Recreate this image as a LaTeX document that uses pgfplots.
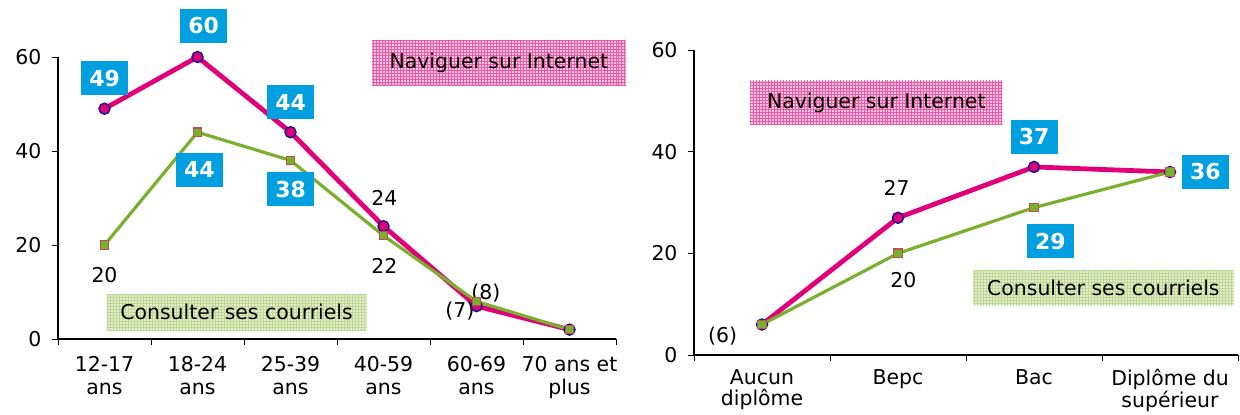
\documentclass[border=0pt]{standalone}
\usepackage{pgfplots}
\pgfplotsset{compat=1.18}
\usepackage{fontspec}
\setmainfont{DejaVu Sans}
\usetikzlibrary{patterns}
\definecolor{pinkline}{HTML}{E2007A}
\definecolor{navy}{HTML}{1F1A8C}
\definecolor{greenline}{HTML}{7AB02E}
\definecolor{sqedge}{HTML}{C0504D}
\definecolor{boxblue}{HTML}{009FDF}
\definecolor{pinkbg}{HTML}{F9C6E0}
\definecolor{greenbg}{HTML}{E2EFC8}
\newcommand\lf{\fontsize{20.5}{23}\selectfont}
\tikzset{
  bluebox/.style={fill=boxblue, text=white, font=\bfseries\fontsize{22}{22}\selectfont, minimum width=47bp, minimum height=34bp, inner sep=0pt},
  plain/.style={font=\lf, inner sep=0pt},
  pinkleg/.style={preaction={fill=pinkbg}, pattern=grid, pattern color=pinkline!65, font=\lf, minimum width=254bp, minimum height=45bp, inner sep=0pt},
  greenleg/.style={preaction={fill=greenbg}, pattern=grid, pattern color=greenline!50, font=\lf, minimum width=260bp, minimum height=36bp, inner sep=0pt},
}
\pgfplotsset{
  common/.style={
    scale only axis, clip=false,
    axis x line*=bottom, axis y line*=left,
    axis line style={line width=1.2bp, black},
    ymin=0, ymax=60, ytick={0,20,40,60},
    tick align=outside,
    major tick length=6bp, minor tick length=6bp,
    major x tick style={draw=none},
    minor x tick style={line width=0.8bp, black},
    ytick style={line width=0.8bp, black},
    tick label style={font=\lf},
    /pgf/number format/assume math mode=true,
    xticklabel style={align=center, yshift=-8bp},
    yticklabel style={xshift=-7bp},
  },
  pinkser/.style={color=pinkline, line width=4.8bp, mark=*, mark size=5.5bp, mark options={fill=pinkline, draw=navy, line width=1.5bp}},
  greenser/.style={color=greenline, line width=3.2bp, mark=square*, mark size=4.2bp, mark options={fill=greenline, draw=sqedge, line width=1.3bp}},
}
\begin{document}
\begin{tikzpicture}[x=1bp,y=1bp]
\useasboundingbox (0,0) rectangle (1240,-414);
\begin{axis}[common,
  at={(58bp,-339bp)}, anchor=south west,
  width=558bp, height=282bp,
  xmin=-0.5, xmax=5.5,
  xtick={0,1,2,3,4,5},
  xticklabels={12-17\\ans,18-24\\ans,25-39\\ans,40-59\\ans,60-69\\ans,70 ans et\\plus},
  minor xtick={-0.5,0.5,1.5,2.5,3.5,4.5,5.5},
]
\addplot[pinkser] coordinates {(0,49) (1,60) (2,44) (3,24) (4,7) (5,2)};
\addplot[greenser] coordinates {(0,20) (1,44) (2,38) (3,22) (4,8) (5,2)};
\node[pinkleg] at (axis cs:4.24,58.7) {Naviguer sur Internet};
\node[greenleg] at (axis cs:1.42,5.7) {Consulter ses courriels};
\node[bluebox] at (axis cs:0,55.5) {49};
\node[bluebox] at (axis cs:1.065,66.6) {60};
\node[bluebox] at (axis cs:2,50.4) {44};
\node[bluebox] at (axis cs:1.02,36) {44};
\node[bluebox] at (axis cs:2,31.9) {38};
\node[plain] at (axis cs:3.01,30) {24};
\node[plain] at (axis cs:3.01,15.5) {22};
\node[plain] at (axis cs:0,13.6) {20};
\node[plain] at (axis cs:3.82,6) {(7)};
\node[plain] at (axis cs:4.1,9.8) {(8)};
\end{axis}
\begin{axis}[common,
  at={(694bp,-355bp)}, anchor=south west,
  width=544bp, height=305bp,
  xmin=-0.5, xmax=3.5,
  xtick={0,1,2,3},
  xticklabels={Aucun\\diplôme,Bepc,Bac,Diplôme du\\supérieur},
  minor xtick={-0.5,0.5,1.5,2.5,3.5},
  xticklabel style={font=\fontsize{20.5}{21.5}\selectfont, yshift=3bp},
]
\addplot[pinkser] coordinates {(0,6) (1,27) (2,37) (3,36)};
\addplot[greenser] coordinates {(0,6) (1,20) (2,29) (3,36)};
\node[pinkleg, minimum width=252bp, minimum height=44bp] at (axis cs:0.84,49.6) {Naviguer sur Internet};
\node[greenleg, minimum width=261bp, minimum height=35bp] at (axis cs:2.51,13.2) {Consulter ses courriels};
\node[plain] at (axis cs:0.99,32.9) {27};
\node[plain] at (axis cs:1.04,14.8) {20};
\node[plain] at (axis cs:-0.29,3.7) {(6)};
\node[bluebox] at (axis cs:2,42.9) {37};
\node[bluebox] at (axis cs:3.26,36) {36};
\node[bluebox] at (axis cs:2.12,22.4) {29};
\end{axis}
\end{tikzpicture}
\end{document}
